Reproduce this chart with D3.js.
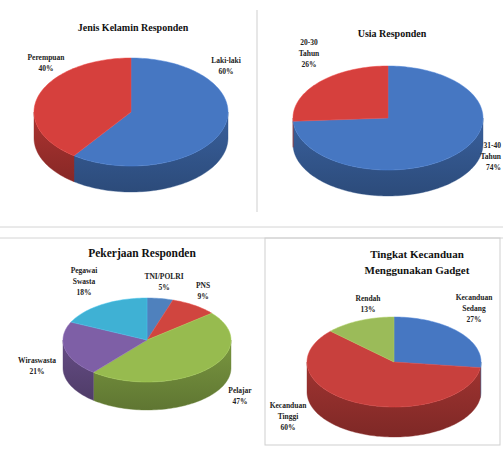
<!DOCTYPE html>
<html><head><meta charset="utf-8">
<script src="https://cdn.jsdelivr.net/npm/d3@7/dist/d3.min.js"></script>
<style>html,body{margin:0;padding:0;background:#fff;}svg{display:block;}</style>
</head><body>
<svg id="c" width="503" height="449"></svg>
<script>
// ---- data ----
const genderLabels = ["Laki-laki", "Perempuan"];
const genderValues = [60, 40];
const ageLabels = ["31-40 Tahun", "20-30 Tahun"];
const ageValues = [74, 26];
const jobLabels = ["TNI/POLRI", "PNS", "Pelajar", "Wiraswasta", "Pegawai Swasta"];
const jobValues = [5, 9, 47, 21, 18];
const addictLabels = ["Kecanduan Sedang", "Kecanduan Tinggi", "Rendah"];
const addictValues = [27, 60, 13];

// ---- layout ----
const svg = d3.select("#c");
const line = d3.line();

// panel borders
svg.append("line").attr("x1",257).attr("x2",257).attr("y1",10).attr("y2",212).attr("stroke","#cfcfcf");
svg.append("line").attr("x1",0).attr("x2",503).attr("y1",227).attr("y2",227).attr("stroke","#d4d4d4");
svg.append("line").attr("x1",0).attr("x2",503).attr("y1",238).attr("y2",238).attr("stroke","#d4d4d4");
svg.append("rect").attr("x",265).attr("y",238).attr("width",235).attr("height",207).attr("fill","none").attr("stroke","#cfcfcf");

const charts = [
  {labels: genderLabels, values: genderValues, colors: ["#4677c2", "#d6403d"],
   cx:131, cy:112, rx:97, ry:54, h:26,
   title:["Jenis Kelamin Responden"], tx:133, ty:31, tsize:10,
   lab:[[226,63,"middle"],[46,60,"middle"]]},
  {labels: ageLabels, values: ageValues, colors: ["#4677c2", "#d6403d"],
   cx:388, cy:118, rx:95, ry:52, h:26,
   title:["Usia Responden"], tx:392, ty:37, tsize:10,
   lab:[[501,148,"end"],[309,45,"middle"]]},
  {labels: jobLabels, values: jobValues, colors: ["#4f81bd", "#d0453f", "#97bb4f", "#7e5fa6", "#3fb1d4"],
   cx:147, cy:340, rx:84, ry:42, h:28,
   title:["Pekerjaan Responden"], tx:142, ty:257, tsize:11.5,
   lab:[[164,279,"middle"],[203,288,"middle"],[240,393,"middle"],[37,363,"middle"],[84,273,"middle"]]},
  {labels: addictLabels, values: addictValues, colors: ["#4677c2", "#c8403d", "#9bbb59"],
   cx:394, cy:362, rx:87, ry:45, h:30,
   title:["Tingkat Kecanduan","Menggunakan Gadget"], tx:417, ty:258, tsize:11,
   lab:[[474,300,"middle"],[288,408,"middle"],[368,301,"middle"]]}
];

function pt(c, a, dy) { return [c.cx + c.rx*Math.sin(a), c.cy - c.ry*Math.cos(a) + dy]; }
function arcPts(c, a0, a1, dy) {
  const n = Math.max(2, Math.ceil(Math.abs(a1-a0)/0.03));
  return d3.range(n+1).map(i => pt(c, a0 + (a1-a0)*i/n, dy));
}

const defs = svg.append("defs");
let gidN = 0;
charts.forEach(c => {
  const g = svg.append("g");
  const color = d3.scaleOrdinal().domain(c.labels).range(c.colors);
  const arcs = d3.pie().sort(null).value(d => d.v)(c.labels.map((l,i)=>({l, v:c.values[i]})));
  // side walls
  arcs.forEach(a => {
    const s = Math.max(a.startAngle, Math.PI/2), e = Math.min(a.endAngle, 3*Math.PI/2);
    if (e > s) {
      const top = arcPts(c, s, e, 0), bot = arcPts(c, e, s, c.h);
      const base = d3.color(color(a.data.l));
      const gid = "g" + (gidN++);
      const grad = defs.append("linearGradient").attr("id",gid)
        .attr("x1",0).attr("x2",0).attr("y1",0).attr("y2",1);
      grad.append("stop").attr("offset","0%").attr("stop-color", base.darker(0.6));
      grad.append("stop").attr("offset","100%").attr("stop-color", base.darker(1.3));
      g.append("path").attr("d", line(top.concat(bot)) + "Z")
        .attr("fill", `url(#${gid})`).attr("stroke", base.darker(1)).attr("stroke-width",0.4);
    }
  });
  // top faces
  arcs.forEach(a => {
    const pts = [[c.cx, c.cy]].concat(arcPts(c, a.startAngle, a.endAngle, 0));
    g.append("path").attr("d", line(pts) + "Z")
      .attr("fill", color(a.data.l)).attr("stroke", d3.color(color(a.data.l)).brighter(0.3)).attr("stroke-width",0.5);
  });
  // title
  c.title.forEach((t,i) => {
    g.append("text").attr("x", c.tx).attr("y", c.ty + i*16).attr("text-anchor","middle")
      .attr("font-family","Liberation Serif, serif").attr("font-weight","bold")
      .attr("font-size", c.tsize).attr("fill","#111").text(t);
  });
  // data labels
  arcs.forEach((a,i) => {
    const [x,y,anchor] = c.lab[i];
    const lines = a.data.l.split(" ").concat([a.data.v + "%"]);
    const t = g.append("text").attr("x", x).attr("y", y).attr("text-anchor", anchor)
      .attr("font-family","Liberation Serif, serif").attr("font-weight","bold")
      .attr("font-size", 7.5).attr("fill","#222");
    lines.forEach((ln,j) => t.append("tspan").attr("x", x).attr("dy", j ? 11 : 0).text(ln));
  });
});
</script>
</body></html>
